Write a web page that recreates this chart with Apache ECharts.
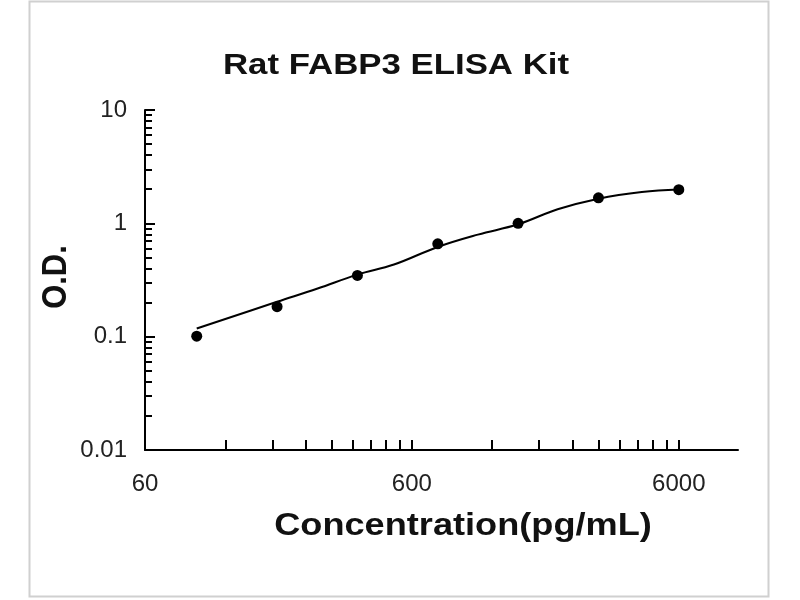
<!DOCTYPE html>
<html>
<head>
<meta charset="utf-8">
<script src="https://cdn.jsdelivr.net/npm/echarts@6/dist/echarts.min.js"></script>
<style>html,body{margin:0;padding:0;background:#fff}#chart{width:800px;height:600px}</style>
</head>
<body>
<div id="chart"></div>
<script>
const concentrations = [93.75, 187.5, 375, 750, 1500, 3000, 6000];
const odValues = [0.101, 0.184, 0.347, 0.66, 1.0, 1.68, 1.98];
const fitConc = [93.75, 187.5, 266, 375, 514, 750, 1060, 1500, 2110, 3000, 4360, 6000];
const fitOD = [0.118, 0.203, 0.266, 0.353, 0.433, 0.619, 0.795, 0.98, 1.33, 1.65, 1.89, 1.99];
const xLabelValues = [60, 600, 6000];
const xTickValues = [60, 120, 180, 240, 300, 360, 420, 480, 540, 600, 1200, 1800, 2400, 3000, 3600, 4200, 4800, 5400, 6000];
const yLabelValues = [0.01, 0.1, 1, 10];
const yMinorValues = [0.02, 0.03, 0.04, 0.05, 0.06, 0.07, 0.08, 0.09, 0.2, 0.3, 0.4, 0.5, 0.6, 0.7, 0.8, 0.9, 2, 3, 4, 5, 6, 7, 8, 9];

const chart = echarts.init(document.getElementById('chart'));
const font = 'Liberation Sans, Arial, sans-serif';
chart.setOption({
  animation: false,
  backgroundColor: '#fff',
  grid: { left: 145, right: 62, top: 110, bottom: 150 },
  xAxis: {
    type: 'log', min: 60, max: 10000,
    axisLine: { lineStyle: { color: '#000', width: 2 } },
    axisTick: { inside: true, length: 10, customValues: xTickValues, lineStyle: { color: '#000', width: 2 } },
    axisLabel: { customValues: xLabelValues, margin: 22, color: '#222', fontSize: 24, fontFamily: font, formatter: v => String(Math.round(v)) },
    splitLine: { show: false }
  },
  yAxis: [{
    type: 'log', min: 0.01, max: 10,
    axisLine: { lineStyle: { color: '#000', width: 2 } },
    axisTick: { inside: true, length: 10, customValues: yLabelValues, lineStyle: { color: '#000', width: 2 } },
    axisLabel: { customValues: yLabelValues, margin: 18, color: '#222', fontSize: 24, fontFamily: font, formatter: v => String(v) },
    splitLine: { show: false }
  }, {
    type: 'log', min: 0.01, max: 10, position: 'left',
    axisLine: { show: false },
    axisTick: { inside: true, length: 7, customValues: yMinorValues, lineStyle: { color: '#000', width: 2 } },
    axisLabel: { show: false },
    splitLine: { show: false }
  }],
  series: [{
    type: 'line',
    data: fitConc.map((c, i) => [c, fitOD[i]]),
    smooth: 0.4, showSymbol: false, symbol: 'none',
    lineStyle: { color: '#000', width: 2 }
  }, {
    type: 'scatter',
    data: concentrations.map((c, i) => [c, odValues[i]]),
    symbolSize: 11,
    itemStyle: { color: '#000', opacity: 1 }
  }],
  graphic: [
    { type: 'rect', shape: { x: 29.5, y: 1.5, width: 739, height: 595 }, style: { fill: 'none', stroke: '#d0d0d0', lineWidth: 2 }, silent: true },
    { type: 'text', x: 396, y: 66, scaleX: 1.2, style: { text: 'Rat FABP3 ELISA Kit', font: 'bold 29px ' + font, fill: '#111', textAlign: 'center', textVerticalAlign: 'middle' } },
    { type: 'text', x: 463, y: 526, scaleX: 1.13, style: { text: 'Concentration(pg/mL)', font: 'bold 32px ' + font, fill: '#111', textAlign: 'center', textVerticalAlign: 'middle' } },
    { type: 'text', x: 56.5, y: 277, rotation: Math.PI / 2, scaleY: 1.13, style: { text: 'O.D.', font: 'bold 31px ' + font, fill: '#111', textAlign: 'center', textVerticalAlign: 'middle' } }
  ]
});
</script>
</body>
</html>
